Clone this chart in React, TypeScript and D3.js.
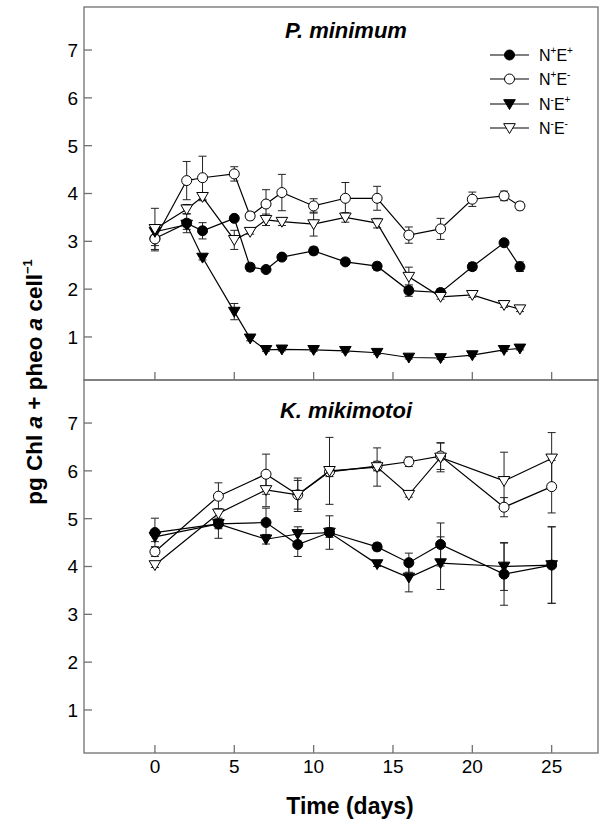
import React from "react";
import * as d3 from "d3";

// ---------- data ----------
const topDays = [0, 2, 3, 5, 6, 7, 8, 10, 12, 14, 16, 18, 20, 22, 23];
const topNpEp = [3.06, 3.38, 3.22, 3.48, 2.46, 2.41, 2.67, 2.8, 2.57, 2.48, 1.97, 1.93, 2.47, 2.97, 2.47];
const topNpEpErr = [0.15, 0.2, 0.17, 0.05, 0.08, 0.05, 0.05, 0.08, 0.05, 0.08, 0.12, 0.08, 0.08, 0.05, 0.1];
const topNpEm = [3.05, 4.27, 4.33, 4.41, 3.53, 3.78, 4.02, 3.74, 3.9, 3.9, 3.13, 3.26, 3.88, 3.95, 3.74];
const topNpEmErr = [0.25, 0.4, 0.45, 0.15, 0.08, 0.3, 0.38, 0.15, 0.33, 0.25, 0.17, 0.22, 0.15, 0.1, 0.08];
const topNmEp = [3.2, 3.35, 2.66, 1.53, 0.97, 0.73, 0.74, 0.73, 0.71, 0.67, 0.57, 0.56, 0.62, 0.73, 0.76];
const topNmEpErr = [0.1, 0.1, 0.05, 0.17, 0.05, 0.03, 0.03, 0.03, 0.03, 0.03, 0.03, 0.03, 0.03, 0.03, 0.03];
const topNmEm = [3.26, 3.67, 3.93, 3.03, 3.2, 3.45, 3.41, 3.36, 3.5, 3.38, 2.26, 1.84, 1.88, 1.67, 1.58];
const topNmEmErr = [0.43, 0.1, 0.08, 0.2, 0.05, 0.12, 0.08, 0.25, 0.1, 0.1, 0.2, 0.05, 0.05, 0.05, 0.05];

const botDays = [0, 4, 7, 9, 11, 14, 16, 18, 22, 25];
const botNpEp = [4.71, 4.89, 4.92, 4.46, 4.71, 4.41, 4.08, 4.46, 3.84, 4.03];
const botNpEpErr = [0.3, 0.3, 0.3, 0.25, 0.35, 0.08, 0.2, 0.45, 0.65, 0.8];
const botNpEm = [4.31, 5.47, 5.93, 5.5, 5.98, 6.1, 6.19, 6.31, 5.24, 5.67];
const botNpEmErr = [0.1, 0.28, 0.42, 0.35, 0.1, 0.1, 0.1, 0.28, 0.2, 0.55];
const botNmEp = [4.62, 4.89, 4.57, 4.68, 4.71, 4.05, 3.77, 4.07, 4.0, 4.03];
const botNmEpErr = [0.1, 0.1, 0.1, 0.15, 0.1, 0.05, 0.3, 0.55, 0.5, 0.8];
const botNmEm = [4.03, 5.11, 5.6, 5.5, 6.0, 6.08, 5.5, 6.28, 5.79, 6.26];
const botNmEmErr = [0.05, 0.1, 0.35, 0.3, 0.7, 0.4, 0.05, 0.3, 0.6, 0.54];

const xTicks = [0, 5, 10, 15, 20, 25];
const yTicks = [1, 2, 3, 4, 5, 6, 7];
const legendLabels = [
  ["N", "+", "E", "+"],
  ["N", "+", "E", "-"],
  ["N", "-", "E", "+"],
  ["N", "-", "E", "-"],
];
const markerKinds = ["filledCircle", "openCircle", "filledTri", "openTri"];
const panelTitles = ["P. minimum", "K. mikimotoi"];

// ---------- layout ----------
const W = 608;
const H = 825;
const left = 84;
const right = 598;
const panels = [
  { top: 7, bottom: 380 },
  { top: 380, bottom: 753 },
];
const FONT = "Arial, 'Liberation Sans', Helvetica, sans-serif";
const AXIS = "#707070";

const x = d3.scaleLinear().domain([-4.47, 27.92]).range([left, right]);

function Marker({ kind, cx, cy }: { kind: string; cx: number; cy: number }) {
  const filled = kind.startsWith("filled");
  if (kind.endsWith("Circle")) {
    return (
      <circle cx={cx} cy={cy} r={5} fill={filled ? "#000" : "#fff"} stroke="#000" strokeWidth={1} />
    );
  }
  const s = 5.8;
  const p = `M${cx - s},${cy - s * 0.75} L${cx + s},${cy - s * 0.75} L${cx},${cy + s * 0.95} Z`;
  return <path d={p} fill={filled ? "#000" : "#fff"} stroke="#000" strokeWidth={1} />;
}

function Panel({
  idx,
  days,
  series,
  errs,
}: {
  idx: number;
  days: number[];
  series: number[][];
  errs: number[][];
}) {
  const { top, bottom } = panels[idx];
  const y = d3.scaleLinear().domain([0.1, 7.9]).range([bottom, top]);
  const line = d3
    .line<[number, number]>()
    .x((d) => x(d[0]))
    .y((d) => y(d[1]));
  return (
    <g>
      {/* frame */}
      <rect x={left} y={top} width={right - left} height={bottom - top} fill="none" stroke={AXIS} strokeWidth={1.3} />
      {/* y ticks */}
      {yTicks.map((t) => (
        <g key={"y" + t}>
          <line x1={left} x2={left + 8} y1={y(t)} y2={y(t)} stroke={AXIS} strokeWidth={1.3} />
          <text x={left - 6} y={y(t)} dy="0.36em" textAnchor="end" fontSize={19} fontFamily={FONT} fill="#000">
            {t}
          </text>
        </g>
      ))}
      {/* x ticks */}
      {xTicks.map((t) => (
        <g key={"x" + t}>
          <line x1={x(t)} x2={x(t)} y1={bottom} y2={bottom - 8} stroke={AXIS} strokeWidth={1.3} />
          {idx === 1 && (
            <text x={x(t)} y={bottom + 20} textAnchor="middle" fontSize={19} fontFamily={FONT} fill="#000">
              {t}
            </text>
          )}
        </g>
      ))}
      {/* title */}
      <text
        x={346}
        y={idx === 0 ? 38 : 418}
        textAnchor="middle"
        fontSize={22}
        fontWeight="bold"
        fontStyle="italic"
        fontFamily={FONT}
      >
        {panelTitles[idx]}
      </text>
      {/* error bars */}
      {series.map((vals, si) => (
        <g key={"e" + si} stroke="#222" strokeWidth={1}>
          {vals.map((v, i) => {
            const e = errs[si][i];
            const cx = x(days[i]);
            return (
              <g key={i}>
                <line x1={cx} x2={cx} y1={y(v - e)} y2={y(v + e)} />
                <line x1={cx - 4} x2={cx + 4} y1={y(v - e)} y2={y(v - e)} />
                <line x1={cx - 4} x2={cx + 4} y1={y(v + e)} y2={y(v + e)} />
              </g>
            );
          })}
        </g>
      ))}
      {/* lines + markers */}
      {series.map((vals, si) => (
        <g key={"s" + si}>
          <path
            d={line(vals.map((v, i) => [days[i], v] as [number, number])) || ""}
            fill="none"
            stroke="#000"
            strokeWidth={1.2}
          />
          {vals.map((v, i) => (
            <Marker key={i} kind={markerKinds[si]} cx={x(days[i])} cy={y(v)} />
          ))}
        </g>
      ))}
    </g>
  );
}

function Legend() {
  const x0 = 490;
  const x1 = 529;
  const ys = [55, 79, 104, 128];
  return (
    <g>
      {legendLabels.map((lab, i) => (
        <g key={i}>
          <line x1={x0} x2={x1} y1={ys[i]} y2={ys[i]} stroke="#000" strokeWidth={1.2} />
          <Marker kind={markerKinds[i]} cx={(x0 + x1) / 2} cy={ys[i]} />
          <text x={539} y={ys[i] + 6} fontSize={16} fontFamily={FONT} fill="#000">
            {lab[0]}
            <tspan fontSize={10} dy={-7}>
              {lab[1]}
            </tspan>
            <tspan dy={7}>{lab[2]}</tspan>
            <tspan fontSize={10} dy={-7}>
              {lab[3]}
            </tspan>
          </text>
        </g>
      ))}
    </g>
  );
}

export default function App() {
  return (
    <svg
      width={W}
      height={H}
      style={{ position: "absolute", left: 0, top: 0, background: "#fff" }}
      xmlns="http://www.w3.org/2000/svg"
    >
      <rect x={0} y={0} width={W} height={H} fill="#fff" />
      <Panel
        idx={0}
        days={topDays}
        series={[topNpEp, topNpEm, topNmEp, topNmEm]}
        errs={[topNpEpErr, topNpEmErr, topNmEpErr, topNmEmErr]}
      />
      <Panel
        idx={1}
        days={botDays}
        series={[botNpEp, botNpEm, botNmEp, botNmEm]}
        errs={[botNpEpErr, botNpEmErr, botNmEpErr, botNmEmErr]}
      />
      <Legend />
      <text
        transform={`translate(42,382) rotate(-90)`}
        textAnchor="middle"
        fontSize={22.5}
        fontWeight="bold"
        fontFamily={FONT}
      >
        pg Chl <tspan fontStyle="italic">a</tspan> + pheo <tspan fontStyle="italic">a</tspan> cell
        <tspan fontSize={13} dy={-10}>
          −1
        </tspan>
      </text>
      <text x={350} y={814} textAnchor="middle" fontSize={23} fontWeight="bold" fontFamily={FONT}>
        Time (days)
      </text>
    </svg>
  );
}
